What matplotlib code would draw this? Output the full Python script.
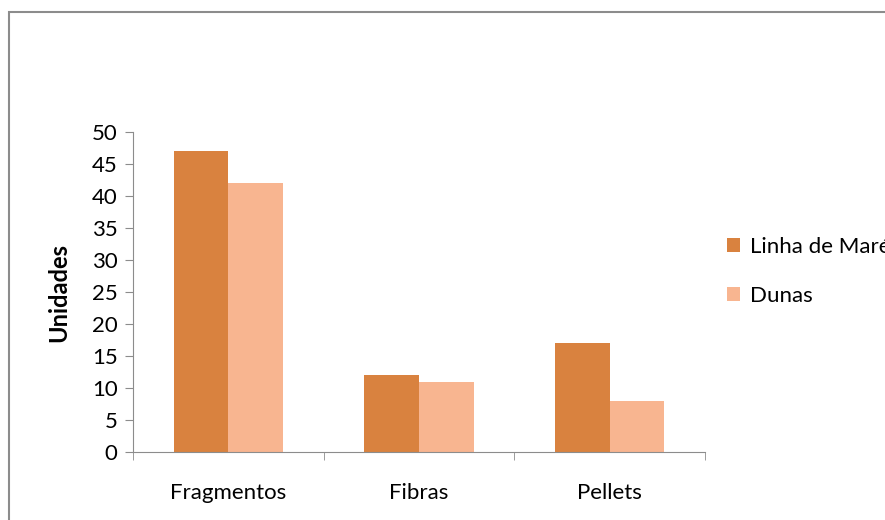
import matplotlib.pyplot as plt
import numpy as np
from matplotlib.patches import Rectangle

categorias = ['Fragmentos', 'Fibras', 'Pellets']
linha_de_mare = [47, 12, 17]
dunas = [42, 11, 8]

plt.rcParams['font.family'] = ['Lato', 'DejaVu Sans']

fig = plt.figure(figsize=(8.85, 5.2), dpi=100)
ax = fig.add_axes([0.1503, 0.1308, 0.6463, 0.6152])

# moldura cinzenta do gráfico
fig.patches.append(Rectangle((9 / 885, -0.1), 1.1, (520 - 12) / 520 + 0.1,
                             transform=fig.transFigure, fill=False,
                             edgecolor='#8c8c8c', linewidth=1.5))

x = np.arange(len(categorias))
w = 0.286
b1 = ax.bar(x - w / 2, linha_de_mare, w, color='#D9823F', label='Linha de Maré')
b2 = ax.bar(x + w / 2, dunas, w, color='#F8B590', label='Dunas')

ax.set_xlim(-0.5, 2.5)
ax.set_ylim(0, 50)
ax.set_yticks(range(0, 51, 5))
ax.set_xticks(x)
ax.set_xticklabels(categorias)
ax.set_xticks([-0.5, 0.5, 1.5, 2.5], minor=True)

for s in ['top', 'right']:
    ax.spines[s].set_visible(False)
for s in ['left', 'bottom']:
    ax.spines[s].set_color('#8c8c8c')

ax.tick_params(axis='y', length=6, color='#8c8c8c', labelsize=16, pad=5)
ax.tick_params(axis='x', which='major', length=0, labelsize=16, pad=22)
ax.tick_params(axis='x', which='minor', length=6, color='#8c8c8c')

ax.set_ylabel('Unidades', fontsize=17, fontweight='bold', labelpad=16)

fig.legend(handles=[b1, b2], loc='upper left', bbox_to_anchor=(718 / 885, (520 - 228) / 520),
           frameon=False, fontsize=16, handlelength=0.6, handleheight=0.6,
           handletextpad=0.45, labelspacing=1.3, borderaxespad=0)

fig.savefig('out.png', dpi=100)
